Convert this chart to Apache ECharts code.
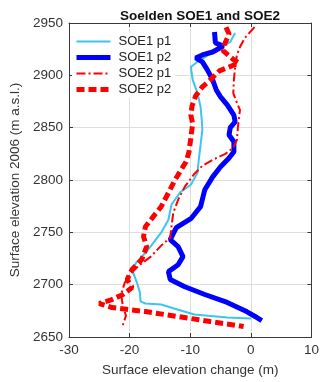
<!DOCTYPE html>
<html>
<head>
<meta charset="utf-8">
<script src="https://cdn.jsdelivr.net/npm/echarts@6/dist/echarts.min.js"></script>
<style>
  html, body { margin: 0; padding: 0; background: #fff; }
  #chart { width: 322px; height: 382px; }
</style>
</head>
<body>
<div id="chart"></div>
<script>
// Profiles: [surface elevation change (m), surface elevation 2006 (m a.s.l.)]
const soe1p1 = [
  [-2.6, 2940.5], [-3.4, 2932], [-6.3, 2922], [-8.8, 2913], [-9.9, 2908],
  [-9.6, 2895.6], [-8.8, 2883], [-8.3, 2870], [-8.1, 2857.5], [-8.0, 2848],
  [-8.3, 2833.6], [-8.6, 2819], [-8.8, 2807], [-9.9, 2795.5], [-11.7, 2788],
  [-13.1, 2776.4], [-13.6, 2762], [-14.8, 2749.7], [-16.1, 2740], [-17.2, 2731.5],
  [-18.8, 2722], [-19.6, 2714.4], [-18.8, 2702], [-18.3, 2692.4], [-18.2, 2684],
  [-17.4, 2682], [-14.8, 2681], [-12.0, 2676], [-9.3, 2671.5], [-3.9, 2668.6],
  [0.0, 2667.6]
];
const soe1p2 = [
  [-6.0, 2941.4], [-5.85, 2931], [-4.55, 2928], [-6.3, 2922.3], [-8.0, 2919.5],
  [-9.1, 2916.6], [-8.0, 2912.8], [-7.15, 2905], [-6.3, 2895.6], [-5.7, 2886],
  [-5.0, 2879.4], [-3.9, 2871.8], [-2.8, 2862], [-2.6, 2855.6], [-3.4, 2850],
  [-3.6, 2843], [-2.8, 2836.5], [-2.8, 2827], [-3.6, 2821], [-5.0, 2812.6],
  [-6.3, 2803], [-7.6, 2790.7], [-8.3, 2774.5], [-9.9, 2763], [-12.3, 2754.4],
  [-13.3, 2743], [-12.0, 2736.3], [-11.2, 2726.8], [-12.0, 2719], [-13.6, 2712.5],
  [-13.3, 2705], [-10.9, 2698], [-7.6, 2690.6], [-3.9, 2683], [-0.7, 2674.3],
  [1.0, 2668.6], [1.8, 2665.7]
];
const soe2p1 = [
  [0.6, 2946], [-1.0, 2935.7], [-1.8, 2927], [-2.3, 2919.5], [-2.6, 2908],
  [-2.8, 2895.6], [-2.9, 2883], [-2.3, 2873.7], [-1.8, 2867], [-2.1, 2852.7],
  [-2.3, 2838.4], [-2.9, 2830.8], [-4.2, 2825], [-6.3, 2819.3], [-8.0, 2813.6],
  [-9.3, 2806], [-10.9, 2793.6], [-12.0, 2781], [-12.8, 2768.8], [-13.1, 2755.4],
  [-13.3, 2745], [-14.8, 2737.3], [-16.5, 2726.8], [-18.5, 2718.2], [-19.8, 2710.6],
  [-20.8, 2702], [-21.4, 2690.6], [-21.1, 2679], [-20.6, 2670.4], [-21.2, 2660]
];
const soe2p2 = [
  [-4.1, 2946], [-3.6, 2939.5], [-4.4, 2929], [-4.55, 2923.3], [-2.8, 2914.7],
  [-2.0, 2911.8], [-3.6, 2908], [-5.2, 2904.2], [-6.7, 2895.6], [-8.0, 2889],
  [-9.1, 2880.4], [-9.7, 2870.8], [-9.9, 2862.2], [-9.6, 2853.7], [-9.9, 2840.3],
  [-10.2, 2827], [-10.7, 2817.4], [-11.5, 2809.8], [-12.5, 2800.2], [-13.6, 2787.8],
  [-14.8, 2774.5], [-16.1, 2765], [-17.4, 2755.4], [-17.7, 2745.9], [-17.2, 2736.3],
  [-18.0, 2724], [-19.6, 2714.4], [-20.4, 2705], [-19.6, 2697.2], [-21.1, 2690.6],
  [-22.9, 2685.8], [-25.0, 2682], [-22.9, 2678.1], [-17.4, 2674.3], [-12.0, 2669.5],
  [-6.7, 2664.8], [-1.2, 2660]
];

const seriesNames = ['SOE1 p1', 'SOE1 p2', 'SOE2 p1', 'SOE2 p2'];
const xTicks = { min: -30, max: 10, interval: 10 };
const yTicks = { min: 2650, max: 2950, interval: 50 };

const font = 'Liberation Sans, Arial, Helvetica, sans-serif';
const axisColor = '#3a3a3a';
const labelColor = '#333';

const styles = [
  { color: '#3cc6ee', width: 2, type: 'solid' },
  { color: '#0000ff', width: 5, type: 'solid' },
  { color: '#ff0000', width: 2, type: [9, 3, 2, 3] },
  { color: '#ff0000', width: 5, type: [8, 4] }
];
const profiles = [soe1p1, soe1p2, soe2p1, soe2p2];

const chart = echarts.init(document.getElementById('chart'), null, { renderer: 'canvas' });

function frameAxis(pos, range, main) {
  return {
    type: 'value',
    position: pos,
    min: range.min, max: range.max, interval: range.interval,
    axisLine: { show: true, onZero: false, lineStyle: { color: axisColor, width: 1 } },
    axisTick: { show: true, inside: true, length: 4, lineStyle: { color: axisColor } },
    axisLabel: main ? {
      show: true, color: labelColor, fontFamily: font, fontSize: 13.5, margin: 6,
      formatter: v => String(v)
    } : { show: false },
    splitLine: { show: main, lineStyle: { color: '#dedede', width: 1 } }
  };
}

const xMain = frameAxis('bottom', xTicks, true);
xMain.name = 'Surface elevation change (m)';
xMain.nameLocation = 'middle';
xMain.nameGap = 26;
xMain.nameTextStyle = { color: labelColor, fontFamily: font, fontSize: 13.5 };

const yMain = frameAxis('left', yTicks, true);
yMain.name = 'Surface elevation 2006 (m a.s.l.)';
yMain.nameLocation = 'middle';
yMain.nameGap = 47;
yMain.nameTextStyle = { color: labelColor, fontFamily: font, fontSize: 13.5 };

chart.setOption({
  animation: false,
  backgroundColor: '#fff',
  title: {
    text: 'Soelden SOE1 and SOE2',
    left: 195, top: 4, textAlign: 'center',
    textStyle: { color: '#111', fontFamily: font, fontSize: 13.5, fontWeight: 'bold' }
  },
  grid: { left: 69, right: 6, top: 23, bottom: 44 },
  xAxis: [xMain, frameAxis('top', xTicks, false)],
  yAxis: [yMain, frameAxis('right', yTicks, false)],
  legend: {
    data: seriesNames.map((name, i) => ({
      name,
      lineStyle: { color: styles[i].color, width: styles[i].width, type: styles[i].type }
    })),
    orient: 'vertical',
    left: 72, top: 33,
    itemWidth: 34, itemHeight: 14, itemGap: 3,
    backgroundColor: '#fff',
    padding: [2, 4, 2, 2],
    itemStyle: { color: 'rgba(0,0,0,0)', borderColor: 'rgba(0,0,0,0)', borderWidth: 0, opacity: 0 },
    textStyle: { color: '#222', fontFamily: font, fontSize: 13, padding: [0, 0, 0, 3] }
  },
  series: seriesNames.map((name, i) => ({
    name, type: 'line', data: profiles[i], symbol: 'none',
    lineStyle: { color: styles[i].color, width: styles[i].width, type: styles[i].type },
    itemStyle: { color: styles[i].color }
  }))
});
</script>
</body>
</html>
